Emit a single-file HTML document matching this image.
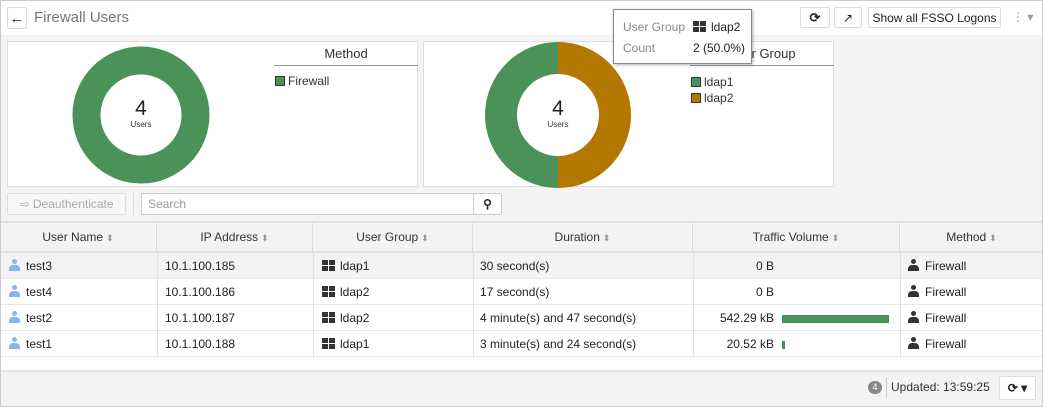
<!DOCTYPE html>
<html><head><meta charset="utf-8"><style>
*{box-sizing:border-box;margin:0;padding:0}
body{width:1043px;height:407px;font-family:"Liberation Sans",sans-serif;font-size:12px;color:#333;background:#fff;position:relative;overflow:hidden}
.abs{position:absolute}
.btn{position:absolute;border:1px solid #ddd;background:#fff;border-radius:2px;display:flex;align-items:center;justify-content:center;font-size:12px;color:#222;white-space:nowrap}
.panel{position:absolute;background:#fff;border:1px solid #ddd}
.th{position:absolute;top:222px;height:30px;line-height:30px;text-align:center;font-size:12px;color:#333;border-right:1px solid #ddd}
.row{position:absolute;left:0;width:1043px;height:26px;border-bottom:1px solid #e8e8e8}
.c{position:absolute;line-height:26px;font-size:12px;color:#222;white-space:nowrap}
.fw{display:inline-block;width:13px;height:11px;background:#333;vertical-align:-1px;margin-right:5px;background-image:linear-gradient(#fff,#fff),linear-gradient(#fff,#fff);background-size:13px 1px,1px 11px;background-repeat:no-repeat;background-position:0 5px,6px 0}
.user{display:inline-block;width:11px;height:12px;vertical-align:-1px;margin-right:6px;position:relative}
.user:before{content:"";position:absolute;left:3px;top:0;width:5px;height:5px;border-radius:50%;background:var(--c)}
.user:after{content:"";position:absolute;left:0;top:6px;width:11px;height:6px;border-radius:4px 4px 0 0;background:var(--c)}
.sort{font-size:9px;color:#999;margin-left:3px}
</style></head><body>
<div class="abs" style="left:0;top:0;width:1043px;height:407px;border:1px solid #ccc;pointer-events:none;z-index:9"></div>
<div class="abs" style="left:0;top:35px;width:1043px;height:187px;background:#f4f4f4"></div>
<div class="btn" style="left:7px;top:7px;width:20px;height:22px;font-size:15px;font-weight:bold">←</div>
<div class="abs" style="left:34px;top:9px;font-size:15px;color:#777">Firewall Users</div>
<div class="btn" style="left:800px;top:7px;width:30px;height:21px;font-weight:bold;font-size:13px">⟳</div>
<div class="btn" style="left:834px;top:7px;width:28px;height:21px">↗</div>
<div class="btn" style="left:868px;top:7px;width:133px;height:21px">Show all FSSO Logons</div>
<div class="abs" style="left:1012px;top:10px;color:#999;font-size:12px">⋮ ▾</div>

<div class="panel" style="left:7px;top:41px;width:411px;height:146px">
<svg width="411" height="146" class="abs" style="left:0;top:0">
<circle cx="133" cy="73" r="54.5" fill="none" stroke="#4a915a" stroke-width="28"/>
<text x="133" y="73" font-size="21" text-anchor="middle" fill="#222" font-family="Liberation Sans">4</text>
<text x="133" y="85" font-size="8" text-anchor="middle" fill="#333" font-family="Liberation Sans">Users</text>
</svg>
<div class="abs" style="left:266px;top:4px;width:144px;height:20px;border-bottom:1px solid #999;text-align:center;font-size:13px">Method</div>
<div class="abs" style="left:267px;top:32px;font-size:12px"><span style="display:inline-block;width:10px;height:10px;background:#4a915a;border:1px solid #333;vertical-align:-1px;margin-right:3px"></span>Firewall</div>
</div>
<div class="panel" style="left:423px;top:41px;width:411px;height:146px">
<svg width="411" height="146" class="abs" style="left:0;top:0">
<path d="M134 0 A73 73 0 0 0 134 146 L134 114 A41 41 0 0 1 134 32Z" fill="#4a915a"/>
<path d="M134 0 A73 73 0 0 1 134 146 L134 114 A41 41 0 0 0 134 32Z" fill="#b47700"/>
<text x="134" y="73" font-size="21" text-anchor="middle" fill="#222" font-family="Liberation Sans">4</text>
<text x="134" y="85" font-size="8" text-anchor="middle" fill="#333" font-family="Liberation Sans">Users</text>
</svg>
<div class="abs" style="left:266px;top:4px;width:144px;height:20px;border-bottom:1px solid #999;text-align:center;font-size:13px">User Group</div>
<div class="abs" style="left:267px;top:32px;font-size:12px;line-height:16px"><span style="display:inline-block;width:10px;height:10px;background:#4a915a;border:1px solid #333;vertical-align:-1px;margin-right:3px"></span>ldap1<br><span style="display:inline-block;width:10px;height:10px;background:#b47700;border:1px solid #333;vertical-align:-1px;margin-right:3px"></span>ldap2</div>
</div>
<div class="abs" style="left:613px;top:9px;width:139px;height:55px;background:#fff;border:1px solid #888;box-shadow:1px 1px 3px rgba(0,0,0,.3);font-size:12px;z-index:5">
<div class="abs" style="left:9px;top:10px;color:#888">User Group</div>
<div class="abs" style="left:79px;top:10px;color:#222"><span class="fw"></span>ldap2</div>
<div class="abs" style="left:9px;top:31px;color:#888">Count</div>
<div class="abs" style="left:79px;top:31px;color:#222">2 (50.0%)</div>
</div>

<div class="btn" style="left:7px;top:193px;width:119px;height:22px;color:#aaa;background:#f8f8f8">⇨ Deauthenticate</div>
<div class="abs" style="left:133px;top:193px;width:1px;height:22px;background:#ddd"></div>
<div class="abs" style="left:141px;top:193px;width:333px;height:22px;border:1px solid #ccc;background:#fff;color:#999;padding-left:6px;line-height:20px">Search</div>
<div class="btn" style="left:473px;top:193px;width:29px;height:22px;font-weight:bold;border-color:#ccc">⚲</div>

<div class="abs" style="left:0;top:221px;width:1043px;height:32px;background:#f3f3f3;border-top:2px solid #e2e2e2;border-bottom:2px solid #e2e2e2"></div>
<div class="th" style="left:0;width:157px">User Name<span class="sort">⬍</span></div>
<div class="th" style="left:157px;width:156px">IP Address<span class="sort">⬍</span></div>
<div class="th" style="left:313px;width:160px">User Group<span class="sort">⬍</span></div>
<div class="th" style="left:473px;width:220px">Duration<span class="sort">⬍</span></div>
<div class="th" style="left:693px;width:207px">Traffic Volume<span class="sort">⬍</span></div>
<div class="th" style="left:900px;width:143px;border-right:none">Method<span class="sort">⬍</span></div>

<div class="row" style="top:253px;background:#f3f3f3"></div>
<div class="row" style="top:279px"></div>
<div class="row" style="top:305px"></div>
<div class="row" style="top:331px"></div>
<div class="abs" style="left:157px;top:253px;width:1px;height:105px;background:#e2e2e2"></div>
<div class="abs" style="left:313px;top:253px;width:1px;height:105px;background:#e2e2e2"></div>
<div class="abs" style="left:473px;top:253px;width:1px;height:105px;background:#e2e2e2"></div>
<div class="abs" style="left:693px;top:253px;width:1px;height:105px;background:#e2e2e2"></div>
<div class="abs" style="left:900px;top:253px;width:1px;height:105px;background:#e2e2e2"></div>

<div class="c" style="left:9px;top:253px"><span class="user" style="--c:#8ab4f0"></span>test3</div>
<div class="c" style="left:165px;top:253px">10.1.100.185</div>
<div class="c" style="left:322px;top:253px"><span class="fw"></span>ldap1</div>
<div class="c" style="left:480px;top:253px">30 second(s)</div>
<div class="c" style="left:694px;top:253px;width:80px;text-align:right">0 B</div>
<div class="c" style="left:908px;top:253px"><span class="user" style="--c:#333"></span>Firewall</div>

<div class="c" style="left:9px;top:279px"><span class="user" style="--c:#8ab4f0"></span>test4</div>
<div class="c" style="left:165px;top:279px">10.1.100.186</div>
<div class="c" style="left:322px;top:279px"><span class="fw"></span>ldap2</div>
<div class="c" style="left:480px;top:279px">17 second(s)</div>
<div class="c" style="left:694px;top:279px;width:80px;text-align:right">0 B</div>
<div class="c" style="left:908px;top:279px"><span class="user" style="--c:#333"></span>Firewall</div>

<div class="c" style="left:9px;top:305px"><span class="user" style="--c:#8ab4f0"></span>test2</div>
<div class="c" style="left:165px;top:305px">10.1.100.187</div>
<div class="c" style="left:322px;top:305px"><span class="fw"></span>ldap2</div>
<div class="c" style="left:480px;top:305px">4 minute(s) and 47 second(s)</div>
<div class="c" style="left:694px;top:305px;width:80px;text-align:right">542.29 kB</div>
<div class="abs" style="left:782px;top:315px;width:107px;height:8px;background:#4a915a"></div>
<div class="c" style="left:908px;top:305px"><span class="user" style="--c:#333"></span>Firewall</div>

<div class="c" style="left:9px;top:331px"><span class="user" style="--c:#8ab4f0"></span>test1</div>
<div class="c" style="left:165px;top:331px">10.1.100.188</div>
<div class="c" style="left:322px;top:331px"><span class="fw"></span>ldap1</div>
<div class="c" style="left:480px;top:331px">3 minute(s) and 24 second(s)</div>
<div class="c" style="left:694px;top:331px;width:80px;text-align:right">20.52 kB</div>
<div class="abs" style="left:782px;top:341px;width:3px;height:8px;background:#4a915a"></div>
<div class="c" style="left:908px;top:331px"><span class="user" style="--c:#333"></span>Firewall</div>

<div class="abs" style="left:0;top:370px;width:1043px;height:37px;background:#f3f3f3;border-top:2px solid #e2e2e2"></div>
<div class="abs" style="left:868px;top:381px;width:14px;height:13px;border-radius:7px;background:#888;color:#fff;font-size:9px;text-align:center;line-height:13px">4</div>
<div class="abs" style="left:886px;top:378px;width:1px;height:20px;background:#ccc"></div>
<div class="abs" style="left:891px;top:380px;font-size:12px;color:#333">Updated: 13:59:25</div>
<div class="btn" style="left:999px;top:376px;width:37px;height:24px;font-weight:bold;font-size:12px">⟳ ▾</div>
</body></html>
